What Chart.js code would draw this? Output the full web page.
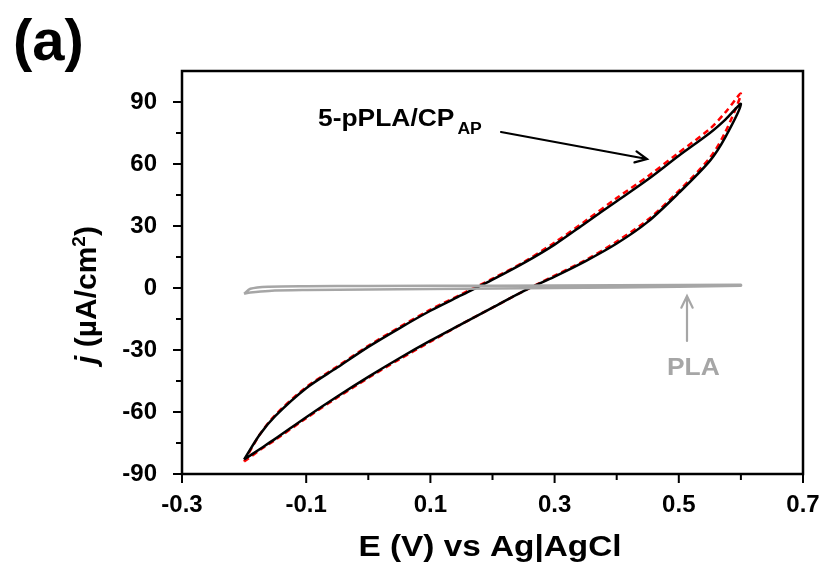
<!DOCTYPE html>
<html>
<head>
<meta charset="utf-8">
<title>CV - 5-pPLA/CPAP vs PLA</title>
<script src="https://cdn.jsdelivr.net/npm/chart.js@4.4.1/dist/chart.umd.min.js"></script>
<style>
    html, body { margin: 0; padding: 0; background: #fff; }
    #wrap { width: 828px; height: 567px; position: relative; }
</style>
</head>
<body>
<div id="wrap"><canvas id="cv-chart" width="828" height="567"></canvas></div>
<script>
/* Cyclic voltammetry, panel (a) */

/* Potential axis ticks (V) */
var xLabelTicks = [-0.3, -0.1, 0.1, 0.3, 0.5, 0.7];
var xMinorTicks = [0.0, 0.2, 0.4, 0.6];
/* Current density axis ticks (uA/cm2) */
var yLabelTicks = [-90, -60, -30, 0, 30, 60, 90];
var yMinorTicks = [-75, -45, -15, 15, 45, 75];

/* 5-pPLA/CPAP, measured (black) : lower branch then upper branch back */
var cpE = [-0.2, -0.175, -0.15, -0.1, -0.05, 0.0, 0.05, 0.1, 0.15, 0.2, 0.25, 0.3, 0.35, 0.4, 0.45, 0.5, 0.55, 0.575, 0.6,
           0.575, 0.55, 0.5, 0.45, 0.4, 0.35, 0.3, 0.25, 0.2, 0.15, 0.1, 0.05, 0.0, -0.05, -0.1, -0.15, -0.175, -0.2];
var cpJ = [-83, -78, -73, -62.5, -52.5, -43, -34, -25.5, -17.5, -9.5, -1.5, 5.5, 13, 21.5, 32, 46, 61.5, 73, 89,
           81.5, 75, 64, 52.5, 42, 31.5, 21, 12, 4, -3.5, -11, -19.5, -28.5, -38.5, -48.5, -62, -71, -83];

/* 5-pPLA/CPAP, fit (red dashed) */
var fitE = [-0.2, -0.175, -0.15, -0.1, -0.05, 0.0, 0.05, 0.1, 0.15, 0.2, 0.25, 0.3, 0.35, 0.4, 0.45, 0.5, 0.55, 0.575, 0.6,
            0.575, 0.55, 0.5, 0.45, 0.4, 0.35, 0.3, 0.25, 0.2, 0.15, 0.1, 0.05, 0.0, -0.05, -0.1, -0.15, -0.175, -0.2];
var fitJ = [-84, -78.5, -73.5, -63, -53, -43.5, -34.5, -26, -17.5, -9.5, -1.5, 6, 13.5, 22.5, 33, 47, 63, 75.5, 94,
            85, 77, 65.5, 54, 43.5, 32.5, 22, 12.5, 4.5, -3, -10.5, -19, -28, -38, -48, -61.5, -71, -84];

/* PLA (grey) */
var plaE = [-0.2, -0.19, -0.16, -0.1, 0.0, 0.2, 0.4, 0.6, 0.6, 0.4, 0.2, 0.0, -0.1, -0.16, -0.19, -0.2];
var plaJ = [-2.8, -2.2, -1.4, -1.0, -0.7, -0.3, 0.3, 1.1, 1.6, 1.3, 1.1, 1.0, 0.9, 0.6, -0.4, -2.8];

(function () {
    "use strict";

    var FONT = "'Liberation Sans', Arial, sans-serif";
    Chart.defaults.font.family = FONT;
    Chart.defaults.color = "#000";

    function pairs(xs, ys) {
        return xs.map(function (x, i) { return { x: x, y: ys[i] }; });
    }

    /* text stretched a little horizontally, like the source figure */
    function wideText(ctx, txt, x, y, sx) {
        ctx.save();
        ctx.translate(x, y);
        ctx.scale(sx, 1);
        ctx.fillText(txt, 0, 0);
        ctx.restore();
        return ctx.measureText(txt).width * sx;
    }

    function drawArrow(ctx, x1, y1, x2, y2, col) {
        var ang = Math.atan2(y2 - y1, x2 - x1);
        var h = 13, s = 0.45;
        ctx.save();
        ctx.strokeStyle = col;
        ctx.lineWidth = 2.2;
        ctx.lineCap = "round";
        ctx.beginPath();
        ctx.moveTo(x1, y1); ctx.lineTo(x2, y2);
        ctx.moveTo(x2 - h * Math.cos(ang - s), y2 - h * Math.sin(ang - s));
        ctx.lineTo(x2, y2);
        ctx.lineTo(x2 - h * Math.cos(ang + s), y2 - h * Math.sin(ang + s));
        ctx.stroke();
        ctx.restore();
    }

    /* Ticks, frame, titles and labels drawn on the canvas */
    var decor = {
        id: "decor",
        afterDraw: function (chart) {
            var ctx = chart.ctx;
            var a = chart.chartArea;
            var xs = chart.scales.x;
            var ys = chart.scales.y;
            ctx.save();

            /* frame */
            ctx.strokeStyle = "#000";
            ctx.lineWidth = 2.5;
            ctx.strokeRect(a.left, a.top, a.right - a.left, a.bottom - a.top);

            /* tick marks, outside */
            ctx.lineWidth = 2;
            ctx.beginPath();
            yLabelTicks.forEach(function (v) {
                var p = ys.getPixelForValue(v);
                ctx.moveTo(a.left - 9, p); ctx.lineTo(a.left, p);
            });
            yMinorTicks.forEach(function (v) {
                var p = ys.getPixelForValue(v);
                ctx.moveTo(a.left - 6, p); ctx.lineTo(a.left, p);
            });
            xLabelTicks.forEach(function (v) {
                var p = xs.getPixelForValue(v);
                ctx.moveTo(p, a.bottom); ctx.lineTo(p, a.bottom + 9);
            });
            xMinorTicks.forEach(function (v) {
                var p = xs.getPixelForValue(v);
                ctx.moveTo(p, a.bottom); ctx.lineTo(p, a.bottom + 6);
            });
            ctx.stroke();

            /* panel letter */
            ctx.fillStyle = "#000";
            ctx.textBaseline = "alphabetic";
            ctx.textAlign = "left";
            ctx.font = "bold 58px " + FONT;
            ctx.fillText("(a)", 13, 60);

            /* x title */
            ctx.font = "bold 29px " + FONT;
            var tw = ctx.measureText("E (V) vs Ag|AgCl").width * 1.15;
            wideText(ctx, "E (V) vs Ag|AgCl", 490 - tw / 2, 556, 1.15);

            /* y title: italic j, superscript 2 */
            ctx.save();
            ctx.translate(96, 295);
            ctx.rotate(-Math.PI / 2);
            var fMain = "bold 30px " + FONT;
            var fIt = "italic bold 30px " + FONT;
            var fSup = "bold 19px " + FONT;
            ctx.font = fIt; var w1 = ctx.measureText("j ").width;
            ctx.font = fMain; var w2 = ctx.measureText("(\u00b5A/cm").width;
            ctx.font = fSup; var w3 = ctx.measureText("2").width;
            ctx.font = fMain; var w4 = ctx.measureText(")").width;
            var x0 = -(w1 + w2 + w3 + w4) / 2;
            ctx.font = fIt; ctx.fillText("j", x0, 0);
            ctx.font = fMain; ctx.fillText("(\u00b5A/cm", x0 + w1, 0);
            ctx.font = fSup; ctx.fillText("2", x0 + w1 + w2, -11);
            ctx.font = fMain; ctx.fillText(")", x0 + w1 + w2 + w3, 0);
            ctx.restore();

            /* 5-pPLA/CPAP label and arrow */
            ctx.font = "bold 24px " + FONT;
            var wl = wideText(ctx, "5-pPLA/CP", 318, 126, 1.1);
            ctx.font = "bold 16px " + FONT;
            wideText(ctx, "AP", 318 + wl + 3, 134, 1.1);
            drawArrow(ctx, 501, 132, 647, 159, "#000");

            /* PLA label and arrow */
            ctx.fillStyle = "#a6a6a6";
            ctx.font = "bold 24px " + FONT;
            wideText(ctx, "PLA", 667, 375, 1.1);
            drawArrow(ctx, 687, 341, 687, 296, "#a6a6a6");

            ctx.restore();
        }
    };

    var ctx = document.getElementById("cv-chart").getContext("2d");
    new Chart(ctx, {
        type: "scatter",
        data: {
            datasets: [{
                label: "PLA",
                data: pairs(plaE, plaJ),
                showLine: true,
                borderColor: "#a6a6a6",
                borderWidth: 2.5,
                pointRadius: 0,
                tension: 0.3
            }, {
                label: "5-pPLA/CPAP",
                data: pairs(cpE, cpJ),
                showLine: true,
                borderColor: "#000",
                borderWidth: 2.5,
                pointRadius: 0,
                tension: 0.3
            }, {
                label: "fit",
                data: pairs(fitE, fitJ),
                showLine: true,
                borderColor: "#ff0000",
                borderWidth: 2.5,
                borderDash: [6, 4],
                pointRadius: 0,
                tension: 0.3
            }]
        },
        options: {
            responsive: false,
            animation: false,
            layout: { padding: { left: 0, right: 25, top: 71, bottom: 0 } },
            plugins: { legend: { display: false }, tooltip: { enabled: false } },
            scales: {
                x: {
                    type: "linear",
                    min: -0.3, max: 0.7,
                    grid: { display: false, drawTicks: false },
                    border: { display: false },
                    afterBuildTicks: function (s) {
                        s.ticks = xLabelTicks.map(function (v) { return { value: v }; });
                    },
                    afterFit: function (s) {
                        s.height = 93;
                        s.paddingLeft = 0;
                        s.paddingRight = 0;
                    },
                    ticks: {
                        padding: 17,
                        maxRotation: 0,
                        font: { size: 24, weight: "bold" },
                        callback: function (v) { return v.toFixed(1); }
                    }
                },
                y: {
                    type: "linear",
                    min: -90, max: 105,
                    grid: { display: false, drawTicks: false },
                    border: { display: false },
                    afterBuildTicks: function (s) {
                        s.ticks = yLabelTicks.map(function (v) { return { value: v }; });
                    },
                    afterFit: function (s) {
                        s.width = 182;
                        s.paddingTop = 0;
                        s.paddingBottom = 0;
                    },
                    ticks: {
                        padding: 25,
                        font: { size: 24, weight: "bold" },
                        callback: function (v) { return String(v); }
                    }
                }
            }
        },
        plugins: [decor]
    });
})();
</script>
</body>
</html>
